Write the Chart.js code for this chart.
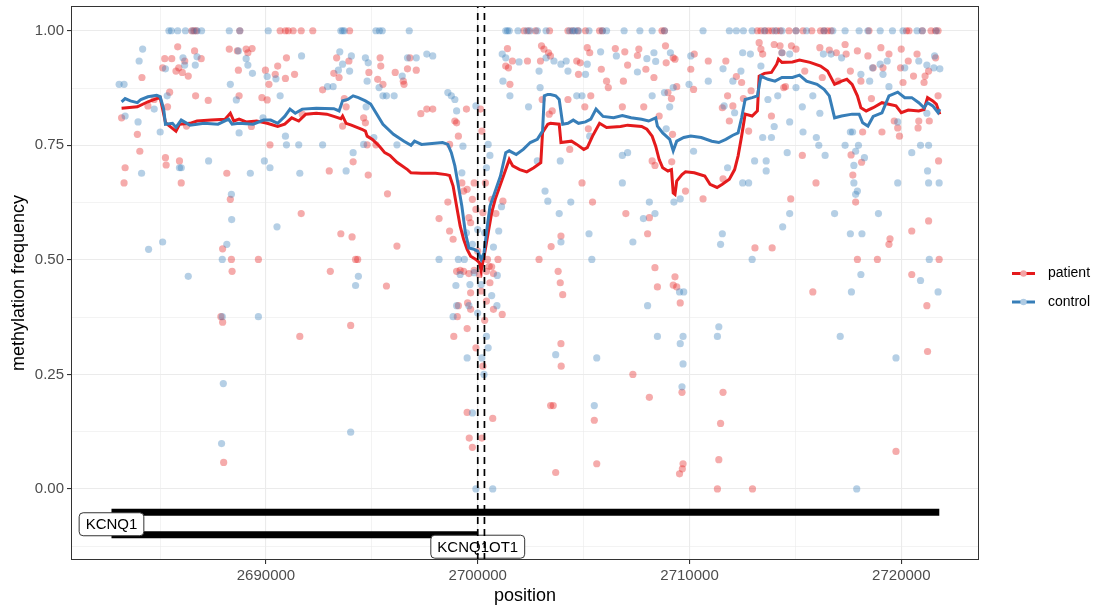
<!DOCTYPE html>
<html>
<head>
<meta charset="utf-8">
<script src="https://cdn.jsdelivr.net/npm/chart.js@4.4.1/dist/chart.umd.min.js"></script>
<style>
  html, body { margin: 0; padding: 0; background: #fff; }
  #wrap { width: 1099px; height: 607px; position: relative; }
</style>
</head>
<body>
<div id="wrap"><canvas id="chart"></canvas></div>
<script>
// methylation calls per CpG (position, frequency)
const patientPos = [
  2683182,2683348,2683298,2683927,2684043,2684143,2684424,2684722,2685120,2685219,2685253,2685286,2685352,2685451,2685550,2685750,
  2685832,2685882,2685915,2685998,2686048,2686164,2686247,2686330,2686628,2686677,2686942,2687274,2687952,2688151,2688267,2688317,
  2688367,2688400,2688648,2688698,2688731,2689063,2689146,2689344,2689311,2689642,2689808,2689974,2690056,2690139,2690189,2690437,
  2690553,2690918,2690967,2691349,2691663,2691713,2692674,2692988,2693038,2693204,2693336,2693452,2693535,2693618,2693700,2693784,
  2693916,2694065,2694115,2694231,2694330,2694612,2694695,2694777,2694827,2694860,2695192,2695275,2695391,2695420,2695523,2695689,
  2695738,2696102,2696185,2696484,2696517,2696682,2696798,2697097,2697312,2697594,2697875,2698173,2698670,
  2698588,2698670,2698836,2698919,2699002,2699085,2699250,2699333,2699466,2699499,2699582,2699664,2699747,2699830,2699913,2699996,
  2700128,2700194,2700244,2700360,2700460,2700542,2700658,2700857,2700956,2701188,2701321,2701453,2701519,2701403,2701635,2702348,
  2702895,2702961,2703010,2703043,2703126,2703341,2703374,
  2699002,2699168,2699333,2699582,2699830,2700079,2700410,2700658,2700741,2699664,2700161,2700575,
  2687870,2687953,2691597,2693999,2698869,2699035,2699499,2699085,2699520,2699664,2699913,2700327,2700410,2700741,2701155,2700244,
  2699499,2700708,2699598,2700194,2699747,2688002,2703441,
  2703432,2703515,2704260,2704343,2704674,2704757,2704840,2704923,2705055,2705171,2705221,2705287,2705337,2705420,2705834,2706082,
  2706165,2706496,2706828,2706877,2706944,2706993,2707076,2707540,2707606,2707838,2707938,2708020,2708103,2708236,2708319,2708368,
  2708567,2708865,2708898,2708981,2709147,2709230,2709197,2709160,2709313,2709396,2709810,2710058,2710191,2710224,2710638,2710886,
  2711549,2711582,2711715,2711797,2711880,2712046,2712211,2712460,2712543,2712791,2712907,2713288,2713371,2713454,2713868,2713999,
  2714274,2714365,2714448,2714530,2714812,2715027,2715326,2715442,2715972,2716154,2716270,2716601,2716932,2717015,2717346,2717396,
  2717595,2717628,2717711,2717844,2717927,2718092,2718125,2718175,2718423,2718589,2718672,2719036,2719086,2719136,2719417,2719666,
  2719831,2719914,2719964,2719997,2720080,2720329,2720577,2720743,2720792,2720825,2721123,2721289,2721322,2721621,2721737,2721760,
  2721074,
  2703929,2703796,2703896,2704012,2708368,2708484,2709313,2709396,2709230,2713090,2713901,2715822,2717927,2718871,2719417,2719467,
  2720494,2721289,2721787,2720494,2714779,2703465,
  2703929,2703940,2703680,2703564,2705503,2705619,2707325,2708103,2709561,2709644,2709694,2709661,2709528,2711383,2711466,2711582,
  2711317,2712973,2721207,2721240,2719749,
  2686495,2686611,2686710,2688764,2690669,2690918,2691050,2691282,2691663,2692210,2693949,2702182,2702398,2702729,2703390,2704260,
  2704459,2704724,2705089,2705751,2705884,2708700,2708816,2713205,2713371,2713570,2713736,2713901,2714117,2714282,2714696,2715027,
  2715359,2715773,2716187,2716353,2716518,2716684,2718473,2720246,2720362,2720991,2721405,2721621,2721737
];
const patientFreq = [
  0.810,0.701,0.668,0.774,0.737,0.898,0.836,0.850,0.919,0.939,0.723,0.707,0.834,0.866,0.939,0.912,
  0.965,0.919,0.716,0.668,0.909,0.934,0.792,0.901,0.956,0.858,0.939,0.848,0.524,0.689,0.960,0.632,
  0.501,0.475,0.956,0.914,0.858,0.960,0.952,0.961,0.791,0.501,0.854,0.914,0.849,0.883,0.751,0.905,
  0.923,0.896,0.941,0.905,0.601,0.818,0.871,0.694,0.475,0.907,0.941,0.898,0.557,0.792,0.852,0.834,
  0.934,0.550,0.714,0.501,0.501,0.810,0.799,0.751,0.685,0.909,0.751,0.894,0.941,0.923,0.883,0.443,
  0.644,0.909,0.530,0.890,0.883,0.917,0.941,0.914,0.819,0.829,0.829,0.590,0.752,
  0.626,0.563,0.545,0.803,0.799,0.770,0.668,0.650,0.829,0.654,0.592,0.581,0.632,0.668,0.610,0.519,
  0.829,0.781,0.603,0.668,0.501,0.486,0.632,0.601,0.501,0.628,0.923,0.919,0.883,0.961,0.934,0.934,
  0.501,0.934,0.967,0.850,0.960,0.952,0.818,
  0.475,0.477,0.475,0.470,0.477,0.468,0.475,0.485,0.470,0.428,0.432,0.450,
  0.376,0.364,0.333,0.357,0.333,0.376,0.350,0.400,0.406,0.392,0.308,0.368,0.410,0.392,0.381,0.268,
  0.167,0.154,0.111,0.111,0.091,0.058,0.182,
  0.945,0.825,0.850,0.741,0.934,0.905,0.930,0.668,0.834,0.963,0.786,0.952,0.858,0.626,0.916,0.890,
  0.876,0.961,0.834,0.890,0.954,0.601,0.925,0.946,0.960,0.834,0.916,0.557,0.592,0.716,0.898,0.706,
  0.814,0.967,0.930,0.865,0.852,0.941,0.774,0.714,0.938,0.878,0.650,0.916,0.872,0.949,0.633,0.934,
  0.832,0.677,0.934,0.858,0.803,0.836,0.900,0.887,0.852,0.781,0.869,0.974,0.960,0.949,0.814,0.970,
  0.967,0.952,0.876,0.878,0.967,0.960,0.728,0.912,0.668,0.963,0.898,0.958,0.952,0.890,0.970,0.949,
  0.912,0.729,0.685,0.626,0.956,0.890,0.713,0.779,0.945,0.852,0.919,0.963,0.779,0.919,0.949,0.803,
  0.788,0.770,0.919,0.960,0.887,0.934,0.901,0.949,0.788,0.803,0.901,0.912,0.803,0.941,0.858,0.716,
  0.887,
  0.552,0.475,0.450,0.424,0.483,0.441,0.463,0.441,0.445,0.526,0.526,0.430,0.501,0.501,0.534,0.546,
  0.468,0.585,0.501,0.563,0.633,0.529,
  0.317,0.268,0.036,0.182,0.150,0.055,0.250,0.200,0.406,0.211,0.055,0.044,0.033,0.064,0.143,0.211,
  0.000,0.000,0.400,0.300,0.082,
  1,1,1,1,1,1,1,1,1,1,1,1,1,1,1,1,
  1,1,1,1,1,1,1,1,1,1,1,1,1,1,1,1,
  1,1,1,1,1,1,1,1,1,1,1,1,1
];
const controlPos = [
  2683066,2683298,2683348,2683960,2684010,2684176,2684126,2684457,2684722,2685004,2685120,2685253,2685335,2685915,2686000,2686081,
  2686160,2686330,2686661,2686743,2687290,2687936,2688151,2688317,2688367,2688380,2688599,2688698,2688731,2689063,2689146,2689261,
  2689361,2689858,2689924,2690056,2690189,2690470,2690520,2690669,2690918,2690967,2691547,2691597,2691680,2692674,2692905,2693170,
  2693419,2693485,2693618,2693784,2693949,2694032,2694115,2694363,2694231,2694612,2694695,2694728,2694827,2694777,2695093,2695341,
  2695523,2695689,2696052,2696185,2696434,2696682,2697097,2697594,2697875,2698173,2698588,2698753,2698919,2699002,2699250,2699300,
  2699366,2699466,2699747,2699830,2699913,2699996,2700161,2700327,2700410,2700492,2700575,2700658,2700741,2700990,2701122,2700923,
  2698968,2699085,2699168,2699631,2701155,2701321,2701188,2701519,2701950,2702398,2702812,2702895,2702945,2703177,2703226,2703308,
  2687936,2689642,2687985,2687903,2693999,2698836,2699002,2699582,2699996,2700410,2700492,2699499,2700194,2700294,2699747,2699913,
  2700708,2700906,
  2703598,2703929,2704177,2704260,2704674,2704923,2705089,2705171,2705287,2705801,2706546,2706828,2707076,2707540,2706828,2707987,
  2708236,2708319,2708402,2708816,2708898,2709064,2709097,2709230,2709263,2709561,2709976,2710058,2710191,2710886,2711582,2711632,
  2711797,2712046,2712129,2712427,2712510,2712510,2712791,2712874,2713073,2713371,2713454,2713620,2713620,2713702,2713868,2713999,
  2714166,2714365,2714613,2714729,2714729,2715027,2715326,2715359,2715822,2715988,2716104,2716154,2716320,2716403,2716684,2717181,
  2717346,2717595,2717700,2717761,2717844,2717761,2717844,2717927,2717977,2718258,2718092,2718506,2718639,2719003,2719136,2719334,
  2719417,2719831,2719831,2720163,2720494,2720825,2720908,2721207,2721240,2721289,2721289,2721571,2721820,2721787,2721207,2721538,
  2718921,2716850,2714729,2714398,2717595,2718142,2711549,2711466,2712957,2721322,2720908,2721737,2718092,2717645,2705254,2705387,
  2707325,2708103,2708369,2707822,2704393,2703846,2703929,2709528,2709727,2703896,
  2703680,2705619,2705503,2708020,2708484,2709694,2709561,2709694,2709644,2711383,2711317,2717115,2719749,2717895,
  2685418,2685534,2685832,2686197,2686545,2686743,2686959,2688267,2688764,2690106,2693535,2693618,2693700,2695192,2695357,2695490,
  2696765,2701321,2701403,2701486,2701900,2702315,2702480,2702812,2703226,2704343,2704509,2704592,2704757,2705254,2705884,2706082,
  2706911,2707656,2708236,2708816,2710638,2711880,2712211,2712543,2712957,2713537,2714034,2714365,2715027,2715524,2716353,2716767,
  2717346,2718009,2718423,2719003,2719583,2720080,2720743,2720991,2721654
];
const controlFreq = [
  0.883,0.883,0.814,0.801,0.934,0.960,0.689,0.523,0.829,0.779,0.539,0.917,0.858,0.701,0.701,0.941,
  0.925,0.464,0.925,0.943,0.716,0.501,0.534,0.883,0.643,0.588,0.849,0.956,0.777,0.939,0.925,0.689,
  0.907,0.810,0.716,0.900,0.701,0.895,0.572,0.858,0.770,0.751,0.751,0.689,0.945,0.751,0.878,0.878,
  0.914,0.954,0.927,0.694,0.912,0.945,0.734,0.464,0.444,0.752,0.941,0.834,0.930,0.890,0.767,0.876,
  0.858,0.858,0.858,0.751,0.901,0.941,0.941,0.949,0.945,0.501,0.865,0.858,0.850,0.825,0.690,0.748,
  0.501,0.559,0.534,0.472,0.836,0.566,0.446,0.559,0.701,0.752,0.728,0.422,0.528,0.563,0.616,0.466,
  0.444,0.501,0.468,0.446,0.949,0.941,0.890,0.858,0.932,0.834,0.716,0.912,0.876,0.650,0.941,0.628,
  0.376,0.376,0.230,0.099,0.124,0.376,0.400,0.400,0.384,0.333,0.308,0.286,0.286,0.250,0.166,0.000,
  0.000,0.400,
  0.934,0.927,0.934,0.912,0.858,0.858,0.905,0.927,0.770,0.954,0.945,0.728,0.734,0.910,0.668,0.939,
  0.858,0.952,0.933,0.865,0.786,0.834,0.952,0.876,0.626,0.633,0.883,0.945,0.737,0.890,0.917,0.836,
  0.701,0.890,0.821,0.912,0.952,0.668,0.668,0.949,0.716,0.923,0.767,0.716,0.694,0.850,0.767,0.791,
  0.858,0.952,0.734,0.949,0.801,0.876,0.834,0.779,0.858,0.767,0.750,0.820,0.949,0.728,0.949,0.941,
  0.750,0.779,0.779,0.706,0.737,0.668,0.643,0.650,0.750,0.723,0.905,0.890,0.919,0.927,0.905,0.934,
  0.878,0.801,0.668,0.919,0.734,0.934,0.750,0.925,0.694,0.750,0.668,0.945,0.917,0.668,0.820,0.919,
  0.601,0.601,0.601,0.572,0.557,0.557,0.557,0.534,0.501,0.501,0.455,0.430,0.468,0.430,0.557,0.501,
  0.539,0.626,0.601,0.590,0.626,0.601,0.539,0.430,0.430,0.716,
  0.293,0.286,0.182,0.400,0.333,0.333,0.317,0.273,0.223,0.354,0.333,0.333,0.286,0.000,
  1,1,1,1,1,1,1,1,1,1,1,1,1,1,1,1,
  1,1,1,1,1,1,1,1,1,1,1,1,1,1,1,1,
  1,1,1,1,1,1,1,1,1,1,1,1,1,1,1,1,
  1,1,1,1,1,1,1,1,1
];

// smoothed methylation (running mean)
const patientSmoothPos = [
  2683182,2683927,2684424,2684838,2685004,2685253,2685335,2685750,2685915,2686412,2686743,2687406,2688069,2688317,2688483,2688731,
  2689063,2689560,2690056,2690553,2690885,2691216,2691547,2691879,2692376,2692872,2693204,2693535,2693618,2693784,2694032,2694529,
  2694695,2694777,2695026,2695357,2695606,2695854,2696185,2696682,2696848,2697345,2698008,2698505,2698670,2698836,2699002,2699168,
  2699333,2699499,2699664,2699913,2700079,2700161,2700327,2700492,2700658,2700824,2700990,2701321,2701486,2701652,2701983,2702315,
  2702646,2702977,2703060,2703308,2703432,2703846,2703929,2704426,2704674,2705006,2705171,2705420,2705751,2706082,2706745,2707076,
  2707739,2707987,2708236,2708402,2708567,2708733,2708981,2709147,2709230,2709313,2709395,2709644,2709810,2710224,2710721,2710969,
  2711300,2711549,2711880,2712129,2712294,2712460,2712626,2712957,2713205,2713288,2713537,2713868,2714117,2714199,2714365,2714862,
  2715193,2715690,2716187,2716518,2716850,2717181,2717430,2717678,2717927,2718092,2718341,2718672,2719086,2719749,2719997,2720328,
  2720825,2721074,2721240,2721488,2721654,2721820
];
const patientSmoothFreq = [
  0.831,0.834,0.845,0.852,0.854,0.800,0.796,0.781,0.796,0.798,0.803,0.805,0.807,0.820,0.803,0.807,
  0.801,0.803,0.798,0.791,0.796,0.810,0.803,0.818,0.820,0.818,0.813,0.808,0.814,0.798,0.794,0.785,
  0.781,0.770,0.763,0.748,0.734,0.728,0.713,0.697,0.690,0.689,0.689,0.686,0.684,0.661,0.617,0.574,
  0.545,0.523,0.508,0.501,0.494,0.476,0.515,0.559,0.603,0.632,0.654,0.697,0.719,0.705,0.697,0.692,
  0.701,0.712,0.778,0.796,0.798,0.796,0.756,0.759,0.752,0.741,0.745,0.770,0.798,0.789,0.791,0.794,
  0.791,0.785,0.770,0.748,0.719,0.701,0.694,0.697,0.646,0.643,0.672,0.686,0.692,0.690,0.683,0.665,
  0.658,0.665,0.676,0.697,0.727,0.770,0.818,0.814,0.825,0.901,0.907,0.909,0.927,0.938,0.931,0.932,
  0.936,0.931,0.923,0.912,0.883,0.890,0.894,0.883,0.858,0.832,0.825,0.832,0.843,0.836,0.821,0.827,
  0.825,0.828,0.854,0.847,0.840,0.818
];
const controlSmoothPos = [
  2683182,2683348,2683596,2683927,2684093,2684424,2684838,2685004,2685170,2685253,2685584,2685750,2685998,2686412,2686743,2687075,
  2687737,2688234,2688400,2688731,2689394,2689891,2690222,2690553,2690885,2691133,2691382,2691713,2692376,2693204,2693452,2693618,
  2693867,2694115,2694363,2694695,2694943,2695192,2695523,2696020,2696517,2696848,2697014,2697345,2697842,2698339,2698587,2698753,
  2698919,2699085,2699250,2699416,2699582,2699830,2699996,2700161,2700294,2700410,2700576,2700824,2701072,2701321,2701486,2701818,
  2702149,2702480,2702812,2703060,2703143,2703308,2703432,2703680,2703846,2704012,2704260,2704509,2704757,2705089,2705337,2705586,
  2705917,2706414,2706828,2707242,2707739,2708070,2708402,2708484,2708733,2709064,2709230,2709395,2709727,2710058,2710555,2711052,
  2711383,2711715,2712046,2712294,2712460,2712626,2712957,2713205,2713371,2713702,2714034,2714365,2714862,2715193,2715524,2716021,
  2716353,2716601,2716850,2717181,2717678,2718009,2718175,2718423,2718672,2719086,2719417,2719831,2720163,2720494,2720825,2721074,
  2721240,2721488,2721737,2721820
];
const controlSmoothFreq = [
  0.845,0.852,0.847,0.843,0.850,0.856,0.859,0.856,0.829,0.796,0.798,0.789,0.805,0.794,0.796,0.798,
  0.796,0.807,0.796,0.798,0.796,0.805,0.805,0.798,0.813,0.829,0.820,0.829,0.831,0.830,0.825,0.847,
  0.850,0.858,0.854,0.847,0.840,0.821,0.796,0.774,0.759,0.750,0.759,0.752,0.754,0.756,0.752,0.734,
  0.705,0.661,0.617,0.559,0.526,0.523,0.519,0.501,0.515,0.559,0.617,0.650,0.683,0.734,0.738,0.730,
  0.741,0.756,0.763,0.781,0.858,0.861,0.861,0.858,0.850,0.796,0.798,0.805,0.798,0.801,0.807,0.829,
  0.813,0.810,0.815,0.810,0.807,0.803,0.810,0.792,0.777,0.763,0.738,0.759,0.767,0.770,0.767,0.759,
  0.756,0.763,0.772,0.777,0.810,0.850,0.854,0.858,0.901,0.894,0.890,0.898,0.898,0.903,0.890,0.883,
  0.872,0.858,0.810,0.814,0.818,0.818,0.799,0.792,0.813,0.821,0.858,0.866,0.854,0.854,0.843,0.832,
  0.843,0.836,0.821,0.829
];

// gene models
const geneNames = ['KCNQ1', 'KCNQ1OT1'];
const geneStart = [2682705, 2682705];
const geneEnd = [2721794, 2700000];
const geneRow = [-0.051, -0.1];
const geneLabelPos = [2682705, 2700000];
const geneLabelRow = [-0.077, -0.126];

// region of interest
const markerPos = [2700000, 2700316];

const seriesNames = ['patient', 'control'];
const xMajor = [2690000, 2700000, 2710000, 2720000];
const xMinor = [2685000, 2695000, 2705000, 2715000];
const yMajor = [0, 0.25, 0.5, 0.75, 1];
const yMinor = [-0.125, 0.125, 0.375, 0.625, 0.875];
const xMin = 2680793, xMax = 2723669;
const yMin = -0.155, yMax = 1.054;

const RED = '#e41a1c', BLUE = '#377eb8';
const RED_PT = 'rgba(228,26,28,0.37)', BLUE_PT = 'rgba(55,126,184,0.37)';
const FONT = "'Liberation Sans', Arial, Helvetica, sans-serif";

const toXY = (xs, ys) => xs.map((x, i) => ({ x: x, y: ys[i] }));

Chart.defaults.font.family = FONT;

const datasets = [
  { data: toXY(patientPos, patientFreq), backgroundColor: RED_PT, borderWidth: 0, pointRadius: 3.6, order: 20 },
  { data: toXY(controlPos, controlFreq), backgroundColor: BLUE_PT, borderWidth: 0, pointRadius: 3.6, order: 19 },
  { data: toXY(patientSmoothPos, patientSmoothFreq), showLine: true, borderColor: RED, borderWidth: 3, pointRadius: 0, order: 18 },
  { data: toXY(controlSmoothPos, controlSmoothFreq), showLine: true, borderColor: BLUE, borderWidth: 3, pointRadius: 0, order: 17 }
];
geneNames.forEach((g, i) => {
  datasets.push({
    data: [{ x: geneStart[i], y: geneRow[i] }, { x: geneEnd[i], y: geneRow[i] }],
    showLine: true, borderColor: '#000', borderWidth: 7, borderCapStyle: 'butt', pointRadius: 0, order: 16 - i
  });
});
markerPos.forEach((m, i) => {
  datasets.push({
    isMarker: true,
    data: [{ x: m, y: yMin }, { x: m, y: yMax }],
    showLine: true, borderColor: '#000', borderWidth: 1.7, borderDash: [7, 5], pointRadius: 0, order: 2 - i
  });
});

// gene labels go under the dashed markers
let labelsDone = false;
const geneLabels = {
  id: 'geneLabels',
  beforeDatasetsDraw() { labelsDone = false; },
  beforeDatasetDraw(chart, args) {
    if (labelsDone || !chart.data.datasets[args.index].isMarker) return;
    labelsDone = true;
    const ctx = chart.ctx, xs = chart.scales.x, ys = chart.scales.y;
    ctx.save();
    ctx.font = '15px ' + FONT;
    ctx.textAlign = 'center';
    ctx.textBaseline = 'middle';
    geneNames.forEach((name, i) => {
      const cx = xs.getPixelForValue(geneLabelPos[i]);
      const cy = ys.getPixelForValue(geneLabelRow[i]);
      const w = ctx.measureText(name).width + 13, h = 23;
      ctx.beginPath();
      ctx.roundRect(cx - w / 2, cy - h / 2, w, h, 4);
      ctx.fillStyle = '#fff';
      ctx.fill();
      ctx.strokeStyle = '#333';
      ctx.lineWidth = 1;
      ctx.stroke();
      ctx.fillStyle = '#000';
      ctx.fillText(name, cx, cy + 1);
    });
    ctx.restore();
  }
};

const panelAndLegend = {
  id: 'panelAndLegend',
  afterDraw(chart) {
    const ctx = chart.ctx, a = chart.chartArea;
    ctx.save();
    ctx.strokeStyle = '#333';
    ctx.lineWidth = 1;
    ctx.strokeRect(Math.round(a.left) + 0.5, Math.round(a.top) + 0.5, Math.round(a.right - a.left) - 1, Math.round(a.bottom - a.top) - 1);
    const cols = [RED, BLUE], pts = ['#f3a3a4', '#afcbe3'];
    ctx.font = '14px ' + FONT;
    ctx.textBaseline = 'middle';
    seriesNames.forEach((name, i) => {
      const y = 273.5 + i * 28.5;
      ctx.strokeStyle = cols[i];
      ctx.lineWidth = 3;
      ctx.beginPath();
      ctx.moveTo(1012, y);
      ctx.lineTo(1035, y);
      ctx.stroke();
      ctx.fillStyle = pts[i];
      ctx.beginPath();
      ctx.arc(1023.5, y, 3.2, 0, Math.PI * 2);
      ctx.fill();
      ctx.fillStyle = '#000';
      ctx.fillText(name, 1048, y);
    });
    ctx.restore();
  }
};

new Chart(document.getElementById('chart'), {
  type: 'scatter',
  data: { datasets: datasets },
  plugins: [geneLabels, panelAndLegend],
  options: {
    responsive: true,
    maintainAspectRatio: false,
    animation: false,
    devicePixelRatio: 1,
    layout: { padding: { left: 0, right: 120, top: 6, bottom: 0 } },
    plugins: { legend: { display: false }, tooltip: { enabled: false } },
    scales: {
      x: {
        type: 'linear', min: xMin, max: xMax,
        afterBuildTicks: s => { s.ticks = xMinor.concat(xMajor).sort((a, b) => a - b).map(v => ({ value: v })); },
        afterFit: s => { s.height = 47; s.paddingLeft = 0; s.paddingRight = 0; },
        ticks: {
          autoSkip: false, maxRotation: 0, padding: 3, color: '#4d4d4d', font: { size: 15 },
          callback: v => xMajor.includes(v) ? String(v) : ''
        },
        grid: {
          color: '#ebebeb', tickLength: 4, tickWidth: 1.1,
          lineWidth: c => (c.tick && xMajor.includes(c.tick.value)) ? 1.1 : 0.6,
          tickColor: c => (c.tick && xMajor.includes(c.tick.value)) ? '#333' : 'rgba(0,0,0,0)'
        },
        border: { display: false },
        title: { display: true, text: 'position', color: '#000', font: { size: 18 }, padding: { top: 0, bottom: 0 } }
      },
      y: {
        type: 'linear', min: yMin, max: yMax,
        afterBuildTicks: s => { s.ticks = yMinor.concat(yMajor).sort((a, b) => a - b).map(v => ({ value: v })); },
        afterFit: s => { s.width = 71; s.paddingTop = 0; s.paddingBottom = 0; },
        ticks: {
          autoSkip: false, padding: 3, color: '#4d4d4d', font: { size: 15 },
          callback: v => yMajor.includes(v) ? v.toFixed(2) : ''
        },
        grid: {
          color: '#ebebeb', tickLength: 4, tickWidth: 1.1,
          lineWidth: c => (c.tick && yMajor.includes(c.tick.value)) ? 1.1 : 0.6,
          tickColor: c => (c.tick && yMajor.includes(c.tick.value)) ? '#333' : 'rgba(0,0,0,0)'
        },
        border: { display: false },
        title: { display: true, text: 'methylation frequency', color: '#000', font: { size: 18 }, padding: { top: 8, bottom: 0 } }
      }
    }
  }
});
</script>
</body>
</html>
